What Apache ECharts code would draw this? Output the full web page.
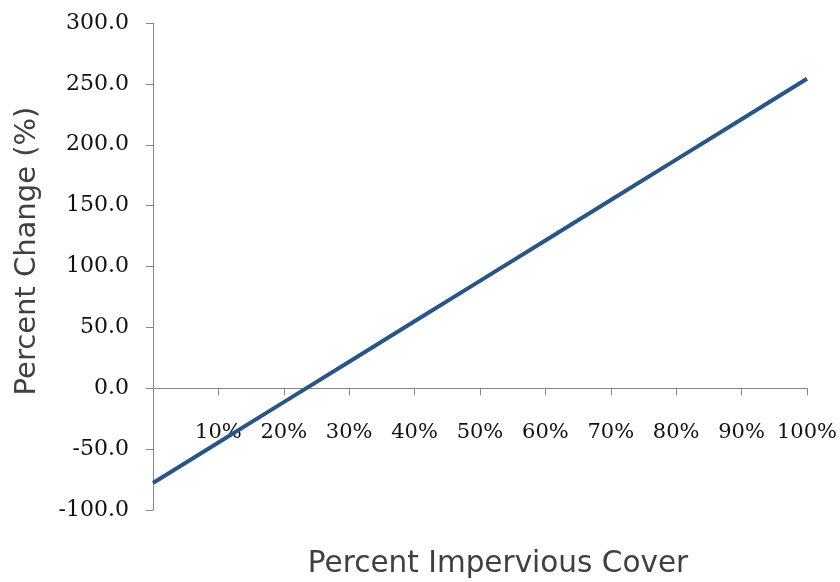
<!DOCTYPE html>
<html><head><meta charset="utf-8">
<script src="https://cdn.jsdelivr.net/npm/echarts@6/dist/echarts.min.js"></script>
<style>html,body{margin:0;padding:0;background:#fff}#c{width:840px;height:582px}</style>
</head><body><div id="c"></div>
<script>
const xValues = [0, 10, 20, 30, 40, 50, 60, 70, 80, 90, 100];
const yValues = [-77.8, -44.6, -11.4, 21.8, 55.0, 88.2, 121.4, 154.6, 187.8, 221.0, 254.2];
const xTickLabels = ['', '10%', '20%', '30%', '40%', '50%', '60%', '70%', '80%', '90%', '100%'];
const yAxisTitle = 'Percent Change (%)';
const xAxisTitle = 'Percent Impervious Cover';

const chart = echarts.init(document.getElementById('c'));
chart.setOption({
  animation: false,
  grid: {left: 153, right: 31, top: 23, bottom: 72},
  xAxis: {
    type: 'value', min: 0, max: 100, interval: 10,
    axisLine: {onZero: true, lineStyle: {color: '#868686', width: 1}},
    axisTick: {show: true, inside: false, length: 7, lineStyle: {color: '#868686'}},
    splitLine: {show: false},
    axisLabel: {
      margin: -88, color: '#111', fontFamily: 'DejaVu Serif', fontSize: 21,
      formatter: v => xTickLabels[xValues.indexOf(v)] || ''
    }
  },
  yAxis: {
    type: 'value', min: -100, max: 300, interval: 50,
    axisLine: {show: true, lineStyle: {color: '#868686', width: 1}},
    axisTick: {show: true, length: 7, lineStyle: {color: '#868686'}},
    splitLine: {show: false},
    axisLabel: {
      margin: 24, color: '#111', fontFamily: 'DejaVu Serif', fontSize: 22,
      formatter: v => v.toFixed(1)
    }
  },
  series: [{
    type: 'line',
    data: xValues.map((x, i) => [x, yValues[i]]),
    showSymbol: false,
    lineStyle: {color: '#2b5585', width: 4},
    itemStyle: {color: '#2b5585'}
  }],
  graphic: [
    {type: 'text', x: 498, y: 564,
     style: {text: xAxisTitle, fontFamily: 'DejaVu Sans', fontSize: 29.5, fill: '#404040', align: 'center', verticalAlign: 'middle'}},
    {type: 'text', x: 27, y: 251, rotation: Math.PI / 2,
     style: {text: yAxisTitle, fontFamily: 'DejaVu Sans', fontSize: 29, fill: '#404040', align: 'center', verticalAlign: 'middle'}}
  ]
});
</script></body></html>
